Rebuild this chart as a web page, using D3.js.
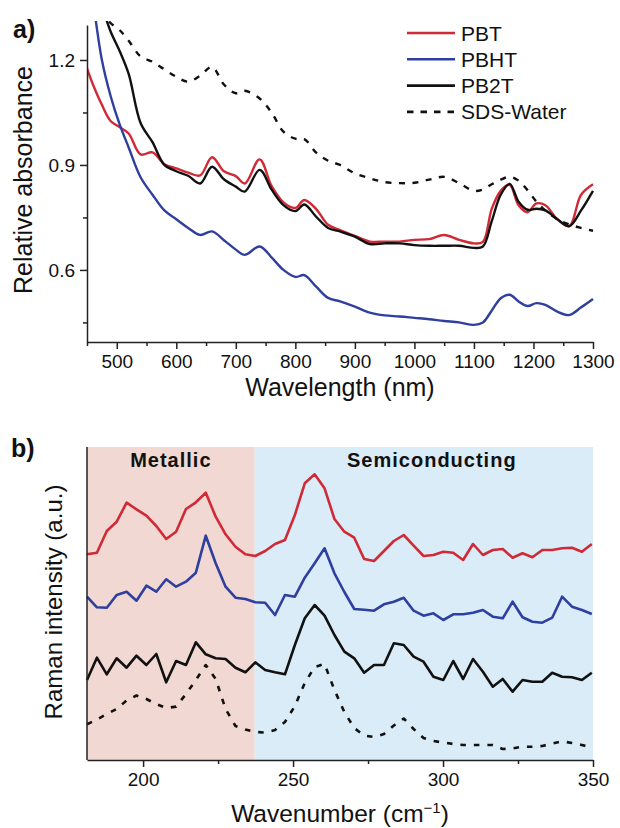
<!DOCTYPE html>
<html>
<head>
<meta charset="utf-8">
<script src="https://cdn.jsdelivr.net/npm/d3@7/dist/d3.min.js"></script>
<style>
    body { margin: 0; background: #fff; }
    text { font-family: "Liberation Sans", Arial, sans-serif; fill: #111; }
    .axis path, .axis line { stroke: #222; stroke-width: 1.5; }
    .axis text { font-size: 19px; font-family: "Liberation Sans", Arial, sans-serif; fill: #111; }
</style>
</head>
<body>
<div id="graph"></div>
<script>
/*
    Data for panel a) (absorbance)
*/
var wavelength = [450, 460, 475, 490, 505, 520, 540, 560, 580, 600, 620, 640, 660, 680, 700, 715, 740, 760, 780, 800,
    815, 835, 855, 875, 900, 925, 950, 975, 1000, 1025, 1050, 1075, 1100, 1115, 1130, 1145, 1160, 1175, 1190, 1205,
    1220, 1240, 1260, 1280, 1300]

var pbt = [1.176, 1.13, 1.072, 1.025, 1.008, 0.99, 0.93, 0.936, 0.902, 0.89, 0.878, 0.87, 0.922, 0.882, 0.868, 0.847,
    0.916, 0.84, 0.793, 0.777, 0.8, 0.774, 0.729, 0.714, 0.697, 0.681, 0.681, 0.681, 0.686, 0.688, 0.7, 0.686, 0.676,
    0.68, 0.775, 0.826, 0.843, 0.785, 0.765, 0.79, 0.785, 0.745, 0.725, 0.815, 0.845]

var pbht = [1.48, 1.37, 1.2, 1.095, 1.015, 0.95, 0.865, 0.815, 0.77, 0.745, 0.72, 0.7, 0.71, 0.685, 0.658, 0.643,
    0.667, 0.636, 0.6, 0.58, 0.585, 0.552, 0.52, 0.51, 0.495, 0.478, 0.47, 0.467, 0.463, 0.459, 0.454, 0.45, 0.443,
    0.45, 0.484, 0.519, 0.529, 0.51, 0.497, 0.505, 0.5, 0.481, 0.471, 0.493, 0.517]

var pb2t = [1.45, 1.4, 1.35, 1.28, 1.225, 1.16, 1.02, 0.965, 0.9, 0.882, 0.869, 0.847, 0.895, 0.859, 0.838, 0.824,
    0.886, 0.83, 0.785, 0.768, 0.787, 0.752, 0.72, 0.71, 0.695, 0.674, 0.676, 0.676, 0.671, 0.669, 0.669, 0.669, 0.663,
    0.667, 0.74, 0.815, 0.846, 0.795, 0.772, 0.775, 0.77, 0.745, 0.725, 0.77, 0.826]

var sdsWater = [1.45, 1.4, 1.34, 1.305, 1.285, 1.255, 1.21, 1.195, 1.173, 1.152, 1.138, 1.155, 1.18, 1.13, 1.105,
    1.112, 1.09, 1.05, 0.995, 0.975, 0.974, 0.935, 0.912, 0.9, 0.876, 0.862, 0.851, 0.848, 0.849, 0.858, 0.866, 0.848,
    0.826, 0.83, 0.845, 0.858, 0.866, 0.855, 0.828, 0.795, 0.77, 0.745, 0.73, 0.72, 0.712]

var seriesNames = ["PBT", "PBHT", "PB2T", "SDS-Water"]
var seriesColors = ["#d02a36", "#2e3f9f", "#111111", "#111111"]

var absMajorTicks = [0.6, 0.9, 1.2]
var absMinorTicks = [0.45, 0.75, 1.05]
var wlMajorTicks = [500, 600, 700, 800, 900, 1000, 1100, 1200, 1300]
var wlMinorTicks = [450, 550, 650, 750, 850, 950, 1050, 1150, 1250]

/*
    Data for panel b) (Raman), intensity in arbitrary units
*/
var wavenumber = [181.3, 184.6, 187.9, 191.2, 194.5, 197.8, 201.1, 204.4, 207.7, 211.0, 214.3, 217.6, 220.9, 224.2,
    227.5, 230.8, 234.1, 237.4, 240.7, 244.0, 247.3, 250.6, 253.9, 257.2, 260.5, 263.8, 267.1, 270.4, 273.7, 277.0,
    280.3, 283.6, 286.9, 290.2, 293.5, 296.8, 300.1, 303.4, 306.7, 310.0, 313.3, 316.6, 319.9, 323.2, 326.5, 329.8,
    333.1, 336.4, 339.7, 343.0, 346.3, 349.6]

var ramanPBT = [205.7, 207.3, 229, 238.3, 257.3, 250.7, 244.3, 234, 221, 228.3, 251, 257.7, 267.3, 243.3, 225.7, 213.3,
    205.7, 204, 209, 216, 220, 245, 276.7, 285.7, 271.7, 241, 228.3, 222.3, 201, 199, 209, 219, 225, 214.3, 204, 205,
    208.3, 207.3, 200, 216, 205, 210, 211, 202.3, 206.7, 202.7, 210, 210, 211.7, 212.3, 208.3, 216]

var ramanPBHT = [163.3, 152.7, 152.3, 165, 168.3, 159.3, 174.3, 168.3, 180.7, 173.3, 178.3, 187.3, 224.3, 196.7, 173.3,
    162.3, 161, 157.7, 157.3, 145, 165, 163.3, 182.3, 196.7, 211.7, 186.7, 168, 151, 150.3, 149.3, 155.7, 158.3, 162.3,
    149.3, 144.3, 146.7, 140, 145.7, 145.7, 147.3, 150, 143.3, 141.7, 158.3, 142.7, 138.3, 137.3, 142.3, 163.3, 153.3,
    150, 146]

var ramanPB2T = [80, 102.3, 85.7, 101.7, 92.3, 104.3, 95, 106, 77.7, 99, 95, 117.7, 105.7, 101.7, 101, 92.3, 87.7, 97.7,
    90, 87.7, 85.7, 115, 141.7, 155, 144.3, 125, 108.3, 101.7, 87.3, 95, 95, 116.7, 115, 103.3, 98.3, 83.3, 80, 99, 81,
    101, 88.3, 73.3, 81, 68.3, 80, 78.3, 78.3, 87.3, 83.3, 82.7, 80, 87.3]

var ramanSDS = [35.7, 40.5, 46, 51, 59.5, 64.5, 61, 56, 52, 53.4, 66, 80, 95, 81, 51, 34, 30.5, 28, 27.5, 30, 38, 54,
    77, 93, 96, 70, 48, 32, 24.5, 23, 26, 34.5, 41.5, 31, 22, 19, 17.5, 16, 15, 15, 15, 15, 11, 11.5, 13.3, 13.3, 14,
    16.5, 18.7, 17, 15, 12.5]

var regionNames = ["Metallic", "Semiconducting"]
var regionBounds = [[181.3, 237.2], [237.2, 350]]
var regionColors = ["#f2d8d2", "#daecf7"]
var wnMajorTicks = [200, 250, 300, 350]
var wnMinorTicks = [225, 275, 325]

/*
    Set the dimensions
*/
var W = 620, H = 828
var svg = d3.select("#graph").append("svg")
    .attr("width", W)
    .attr("height", H)

svg.append("rect").attr("width", W).attr("height", H).attr("fill", "#fff")

// ---------- panel a ----------
var xA = d3.scaleLinear().domain([450, 1300]).range([87, 593]),
    yA = d3.scaleLinear().domain([0.394, 1.3]).range([342, 25])

svg.append("defs").append("clipPath")
    .attr("id", "clipA")
    .append("rect")
    .attr("x", 87).attr("y", 21)
    .attr("width", 510).attr("height", 321)

var lineA = d3.line()
    .x(function (d) { return xA(d.x) })
    .y(function (d) { return yA(d.y) })
    .curve(d3.curveCatmullRom)

var absSeries = [pbt, pbht, pb2t, sdsWater]
var gA = svg.append("g").attr("clip-path", "url(#clipA)")
absSeries.forEach(function (vals, i) {
    var pts = wavelength.map(function (w, j) { return { x: w, y: vals[j] } })
    gA.append("path")
        .attr("d", lineA(pts))
        .attr("fill", "none")
        .attr("stroke", seriesColors[i])
        .attr("stroke-width", 2.4)
        .attr("stroke-linejoin", "round")
        .attr("stroke-dasharray", i == 3 ? "6,7.5" : null)
})

// axes
svg.append("g")
    .attr("class", "axis")
    .attr("transform", "translate(0,342)")
    .call(d3.axisBottom(xA).tickValues(wlMajorTicks).tickSize(7).tickSizeOuter(0).tickPadding(6)
        .tickFormat(d3.format("d")))
svg.append("g")
    .attr("class", "axis")
    .attr("transform", "translate(0,342)")
    .call(d3.axisBottom(xA).tickValues(wlMinorTicks).tickSize(4).tickFormat(""))
    .select(".domain").remove()

svg.append("g")
    .attr("class", "axis")
    .attr("transform", "translate(87,0)")
    .call(d3.axisLeft(yA).tickValues(absMajorTicks).tickSize(7).tickSizeOuter(0).tickPadding(5)
        .tickFormat(d3.format(".1f")))
svg.append("g")
    .attr("class", "axis")
    .attr("transform", "translate(87,0)")
    .call(d3.axisLeft(yA).tickValues(absMinorTicks).tickSize(4).tickFormat(""))
    .select(".domain").remove()

svg.append("text")
    .attr("x", 340).attr("y", 396)
    .attr("text-anchor", "middle")
    .style("font-size", "25px")
    .text("Wavelength (nm)")

svg.append("text")
    .attr("transform", "translate(32,180) rotate(-90)")
    .attr("text-anchor", "middle")
    .style("font-size", "25px")
    .text("Relative absorbance")

svg.append("text")
    .attr("x", 13).attr("y", 38)
    .style("font-size", "25px").style("font-weight", "bold")
    .text("a)")

// legend
var legend = svg.append("g")
seriesNames.forEach(function (name, i) {
    var ly = 33 + i * 26.3
    legend.append("line")
        .attr("x1", 407).attr("x2", 455)
        .attr("y1", ly).attr("y2", ly)
        .attr("stroke", seriesColors[i])
        .attr("stroke-width", 2.6)
        .attr("stroke-dasharray", i == 3 ? "6.5,7" : null)
    legend.append("text")
        .attr("x", 461).attr("y", ly + 7.5)
        .style("font-size", "21px")
        .text(name)
})

// ---------- panel b ----------
var xB = d3.scaleLinear().domain([181.3, 350]).range([87, 593]),
    yB = d3.scaleLinear().domain([0, 313]).range([760, 447])

regionBounds.forEach(function (b, i) {
    svg.append("rect")
        .attr("x", xB(b[0])).attr("y", 447)
        .attr("width", xB(b[1]) - xB(b[0]))
        .attr("height", 313)
        .attr("fill", regionColors[i])
    svg.append("text")
        .attr("x", (xB(b[0]) + xB(b[1])) / 2 + (i == 0 ? 0 : 8))
        .attr("y", 467)
        .attr("text-anchor", "middle")
        .style("font-size", "20px").style("font-weight", "bold")
        .style("letter-spacing", "1px")
        .text(regionNames[i])
})

var lineB = d3.line()
    .x(function (d) { return xB(d.x) })
    .y(function (d) { return yB(d.y) })

var ramanSeries = [ramanPBT, ramanPBHT, ramanPB2T, ramanSDS]
ramanSeries.forEach(function (vals, i) {
    var pts = wavenumber.map(function (w, j) { return { x: w, y: vals[j] } })
    svg.append("path")
        .attr("d", lineB(pts))
        .attr("fill", "none")
        .attr("stroke", seriesColors[i])
        .attr("stroke-width", 2.6)
        .attr("stroke-linejoin", "round")
        .attr("stroke-dasharray", i == 3 ? "5.5,8" : null)
})

svg.append("g")
    .attr("class", "axis")
    .attr("transform", "translate(0,760)")
    .call(d3.axisBottom(xB).tickValues(wnMajorTicks).tickSize(7).tickSizeOuter(0).tickPadding(6))
svg.append("g")
    .attr("class", "axis")
    .attr("transform", "translate(0,760)")
    .call(d3.axisBottom(xB).tickValues(wnMinorTicks).tickSize(4).tickFormat(""))
    .select(".domain").remove()

svg.append("line")
    .attr("x1", 87).attr("x2", 87)
    .attr("y1", 447).attr("y2", 760)
    .attr("stroke", "#222").attr("stroke-width", 1.5)

var xt = svg.append("text")
    .attr("x", 340).attr("y", 822)
    .attr("text-anchor", "middle")
    .style("font-size", "24.5px")
xt.append("tspan").text("Wavenumber (cm")
xt.append("tspan").attr("dy", -9).style("font-size", "15px").text("\u22121")
xt.append("tspan").attr("dy", 9).text(")")

svg.append("text")
    .attr("transform", "translate(62,602) rotate(-90)")
    .attr("text-anchor", "middle")
    .style("font-size", "24px")
    .text("Raman intensity (a.u.)")

svg.append("text")
    .attr("x", 11).attr("y", 457)
    .style("font-size", "25px").style("font-weight", "bold")
    .text("b)")
</script>
</body>
</html>
